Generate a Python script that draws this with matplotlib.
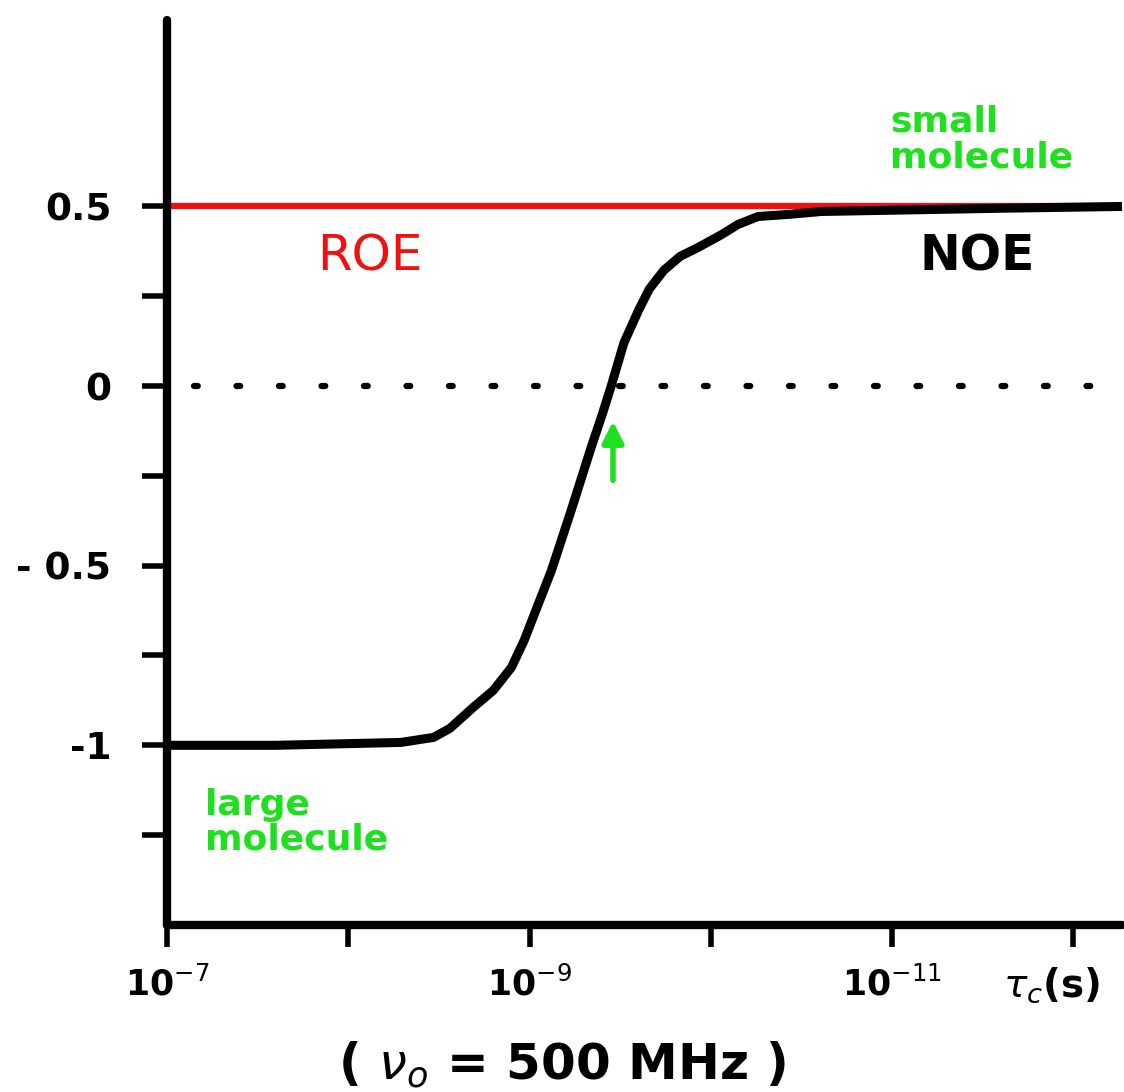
import numpy as np
import matplotlib.pyplot as plt

# correlation time exponents (log10 tau_c, seconds) and NOE
noe_log_tau = [-7.0, -7.6, -8.29, -8.47, -8.56, -8.69, -8.80, -8.90, -8.97, -9.04,
               -9.12, -9.23, -9.34, -9.40, -9.45, -9.52, -9.60, -9.66, -9.74,
               -9.83, -9.93, -10.06, -10.15, -10.26, -10.43, -10.61, -11.05,
               -11.6, -12.27]
noe_values = [-1.0, -1.0, -0.992, -0.978, -0.953, -0.894, -0.847, -0.783, -0.708, -0.617,
              -0.514, -0.345, -0.17, -0.08, 0.0, 0.12, 0.21, 0.27, 0.322,
              0.361, 0.386, 0.422, 0.45, 0.472, 0.478, 0.486, 0.49,
              0.495, 0.5]

roe_log_tau = [-7.0, -12.27]
roe_values = [0.5, 0.5]

ytick_major = [0.5, 0, -0.5, -1]
ytick_labels = ["0.5", "0", "- 0.5", "-1"]
ytick_minor = [0.25, -0.25, -0.75, -1.25]

xtick_exp = [-7, -8, -9, -10, -11, -12]
xtick_labels = ["10$^{-7}$", "", "10$^{-9}$", "", "10$^{-11}$", ""]
x_unit_label = r"$\tau_c$(s)"

GREEN = "#1fe01f"
RED = "#f01010"

fig = plt.figure(figsize=(11.24, 10.92), dpi=100)
ax = fig.add_axes([0.1486, 0.153, 0.85, 0.829])

ax.plot(10.0 ** np.array(roe_log_tau), roe_values, color=RED, lw=4.5, solid_capstyle="butt")
ax.plot(10.0 ** np.array(noe_log_tau), noe_values, color="black", lw=6.5,
        solid_capstyle="round", solid_joinstyle="round")
ax.plot([10.0 ** -7.15, 10.0 ** -12.27], [0, 0], color="black", lw=4.5,
        linestyle=(0, (0.6, 6.2)), dash_capstyle="round")

ax.set_xscale("log")
ax.set_xlim(1e-7, 10.0 ** -12.27)
ax.set_ylim(-1.5, 1.02)

for side in ("top", "right"):
    ax.spines[side].set_visible(False)
for side in ("left", "bottom"):
    ax.spines[side].set_linewidth(6)
    ax.spines[side].set_capstyle("round")

ax.set_yticks(ytick_major)
ax.set_yticklabels(ytick_labels, fontsize=27, fontweight="bold")
ax.set_yticks(ytick_minor, minor=True)
ax.set_xticks([10.0 ** e for e in xtick_exp])
ax.set_xticklabels(xtick_labels, fontsize=25, fontweight="bold")
ax.xaxis.set_minor_locator(plt.NullLocator())
ax.tick_params(axis="y", which="both", direction="out", length=18, width=4, pad=22)
ax.tick_params(axis="x", which="both", direction="out", length=16, width=4, pad=14)

# unit label sits under the last tick, nudged a little left like the sketch
fig.text(0.935, 0.098, x_unit_label, fontsize=28, fontweight="bold",
         ha="center", va="center")

ax.text(10.0 ** -8.12, 0.36, "ROE", color=RED, fontsize=36, ha="center", va="center")
ax.text(10.0 ** -11.47, 0.36, "NOE", color="black", fontsize=35, fontweight="bold",
        ha="center", va="center")
ax.text(10.0 ** -10.99, 0.686, "small\nmolecule", color=GREEN, fontsize=26,
        fontweight="bold", ha="left", va="center", linespacing=1.05)
ax.text(10.0 ** -7.21, -1.214, "large\nmolecule", color=GREEN, fontsize=26,
        fontweight="bold", ha="left", va="center", linespacing=1.05)
ax.annotate("", xy=(10.0 ** -9.46, -0.09), xytext=(10.0 ** -9.46, -0.27),
            arrowprops=dict(arrowstyle="-|>", color=GREEN, lw=4, mutation_scale=32))

fig.text(0.5, 0.025, r"( $\nu_o$ = 500 MHz )", fontsize=36, fontweight="bold",
         ha="center", va="center")

fig.savefig("out.png", dpi=100)
